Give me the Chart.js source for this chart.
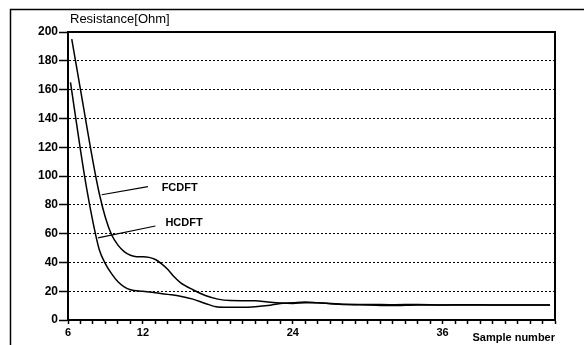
<!DOCTYPE html>
<html>
<head>
<meta charset="utf-8">
<script src="https://cdn.jsdelivr.net/npm/chart.js@4"></script>
<style>
  body { margin: 0; background: #fff; }
  canvas { display: block; }
</style>
</head>
<body>
<canvas id="chart" width="584" height="345"></canvas>
<script>
// Sample numbers and resistance values
const fcdftX = [6.3, 7, 8, 8.5, 9, 9.5, 10, 10.5, 11, 11.5, 12, 12.5, 13, 13.5, 14, 14.5, 15, 16, 17, 18, 19, 20, 21, 22, 23, 24, 25, 26, 27, 28, 30, 32, 34, 36, 38, 40, 42, 44.6];
const fcdftY = [195, 160, 110, 88, 71, 59, 52, 47.5, 45, 44, 44, 43.5, 42, 39, 35, 30, 26, 21, 17, 14.5, 13.5, 13.4, 13.3, 12.5, 11.8, 11.5, 12, 12, 11.3, 10.8, 10.8, 10.6, 10.8, 10.5, 10.6, 10.5, 10.5, 10.4];

const hcdftX = [6.2, 7, 7.5, 8, 8.5, 9, 9.5, 10, 10.5, 11, 12, 13, 14, 15, 16, 17, 18, 19, 20, 21, 22, 23, 24, 25, 26, 28, 30, 32, 34, 36, 38, 40, 42, 44.6];
const hcdftY = [165, 118, 91, 68, 49, 39, 32, 26.5, 23, 21, 20, 19, 17.8, 16.5, 14.5, 11.5, 9, 8.8, 8.8, 9.2, 10, 11.5, 12, 12.5, 12, 11, 10.5, 10, 10.5, 10.5, 10.5, 10.5, 10.5, 10.4];

const xLabelTicks = [6, 12, 24, 36];

// Series labels with their leader lines (in data units)
const seriesNames = ['FCDFT', 'HCDFT'];
const labelAt = [[13.5, 91.7], [13.8, 67.6]];
const leaderFrom = [[8.7, 87], [8.4, 57]];
const leaderTo = [[12.4, 92.6], [13.0, 65.3]];

function toPoints(xs, ys) {
  return xs.map((x, i) => ({ x: x, y: ys[i] }));
}

const decorations = {
  id: 'decorations',
  beforeDraw(chart) {
    const ctx = chart.ctx;
    ctx.save();
    ctx.fillStyle = '#fff';
    ctx.fillRect(0, 0, chart.width, chart.height);
    ctx.restore();
  },
  afterDraw(chart) {
    const ctx = chart.ctx;
    const area = chart.chartArea;
    const xs = chart.scales.x;
    const ys = chart.scales.y;
    ctx.save();

    // outer frame
    ctx.strokeStyle = '#000';
    ctx.lineWidth = 1.5;
    ctx.beginPath();
    ctx.moveTo(10.5, 345);
    ctx.lineTo(10.5, 9.5);
    ctx.lineTo(584, 9.5);
    ctx.stroke();

    // top and right of the plot box
    ctx.lineWidth = 2;
    ctx.beginPath();
    ctx.moveTo(area.left, area.top);
    ctx.lineTo(area.right, area.top);
    ctx.lineTo(area.right, area.bottom);
    ctx.stroke();

    // title and axis name
    ctx.fillStyle = '#000';
    ctx.font = '13px "Liberation Sans", Arial, sans-serif';
    ctx.textBaseline = 'middle';
    ctx.textAlign = 'left';
    ctx.fillText('Resistance[Ohm]', 70, 19);
    ctx.font = 'bold 11px "Liberation Sans", Arial, sans-serif';
    ctx.textAlign = 'right';
    ctx.fillText('Sample number', 555, 338);

    // series labels
    ctx.lineWidth = 1.2;
    ctx.font = 'bold 11px "Liberation Sans", Arial, sans-serif';
    ctx.textAlign = 'left';
    for (let i = 0; i < seriesNames.length; i++) {
      ctx.beginPath();
      ctx.moveTo(xs.getPixelForValue(leaderFrom[i][0]), ys.getPixelForValue(leaderFrom[i][1]));
      ctx.lineTo(xs.getPixelForValue(leaderTo[i][0]), ys.getPixelForValue(leaderTo[i][1]));
      ctx.stroke();
      ctx.fillText(seriesNames[i], xs.getPixelForValue(labelAt[i][0]), ys.getPixelForValue(labelAt[i][1]));
    }
    ctx.restore();
  }
};

new Chart(document.getElementById('chart'), {
  type: 'line',
  data: {
    datasets: [
      {
        label: seriesNames[0],
        data: toPoints(fcdftX, fcdftY),
        borderColor: '#000',
        borderWidth: 1.5,
        pointRadius: 0,
        cubicInterpolationMode: 'monotone'
      },
      {
        label: seriesNames[1],
        data: toPoints(hcdftX, hcdftY),
        borderColor: '#000',
        borderWidth: 1.5,
        pointRadius: 0,
        cubicInterpolationMode: 'monotone'
      }
    ]
  },
  options: {
    responsive: false,
    devicePixelRatio: 1,
    animation: false,
    layout: { padding: { left: 12, top: 32, right: 29, bottom: 0 } },
    plugins: { legend: { display: false }, tooltip: { enabled: false } },
    scales: {
      x: {
        type: 'linear',
        min: 6,
        max: 45,
        afterFit(scale) { scale.height = 25; },
        afterBuildTicks(scale) {
          const t = [];
          for (let v = 6; v <= 45; v++) t.push({ value: v });
          scale.ticks = t;
        },
        ticks: {
          color: '#000',
          autoSkip: false,
          maxRotation: 0,
          padding: 2,
          font: { family: '"Liberation Sans", Arial, sans-serif', size: 11, weight: 'bold' },
          callback: v => (xLabelTicks.includes(v) ? String(v) : '')
        },
        grid: { drawOnChartArea: false, drawTicks: true, tickLength: 4, color: '#000', tickWidth: 1.5 },
        border: { display: true, color: '#000', width: 2 }
      },
      y: {
        min: 0,
        max: 200,
        afterFit(scale) { scale.width = 56; },
        ticks: {
          stepSize: 20,
          color: '#000',
          padding: 1,
          font: { family: '"Liberation Sans", Arial, sans-serif', size: 12, weight: 'bold' }
        },
        grid: {
          color: '#000',
          lineWidth: 1,
          tickLength: 9,
          tickWidth: 1.5,
          tickColor: '#000'
        },
        border: { display: true, color: '#000', width: 2, dash: [2, 2] }
      }
    }
  },
  plugins: [decorations]
});
</script>
</body>
</html>
